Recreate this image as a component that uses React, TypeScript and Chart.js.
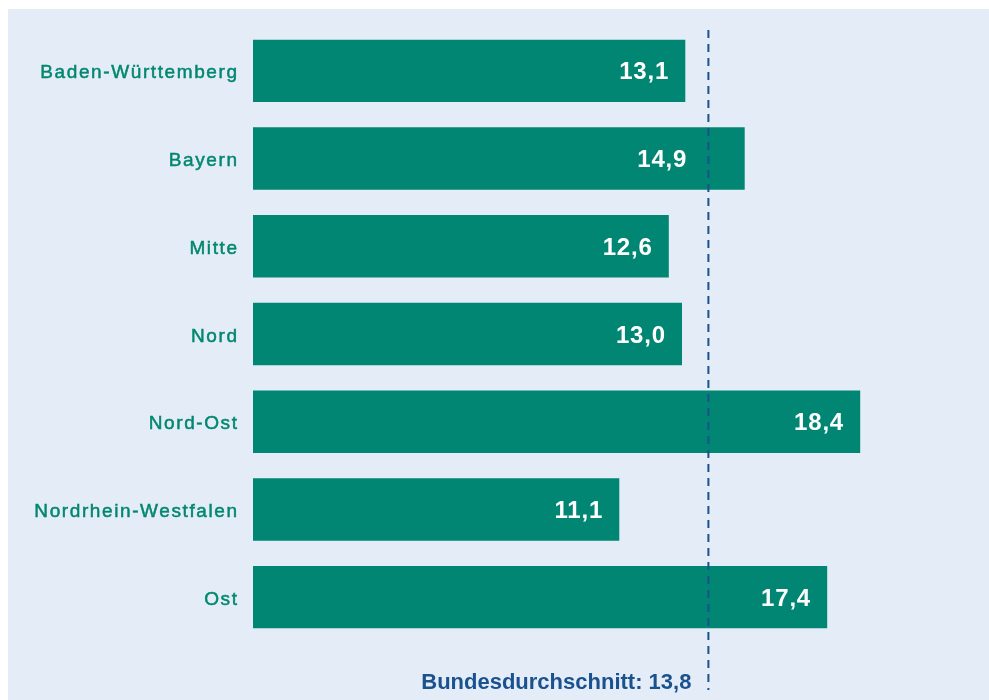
import React, { useEffect, useRef } from "react";
import { Chart, registerables } from "chart.js";

Chart.register(...registerables);

const categories = [
  "Baden-Württemberg",
  "Bayern",
  "Mitte",
  "Nord",
  "Nord-Ost",
  "Nordrhein-Westfalen",
  "Ost",
];
const values = [13.1, 14.9, 12.6, 13.0, 18.4, 11.1, 17.4];
const average = 13.8;
const averageLabel = "Bundesdurchschnitt: 13,8";

const TEAL = "#008672";
const LABEL_TEAL = "#00876f";
const BLUE = "#1a528f";
const BG = "#e4ecf7";

const fmt = (v: number) => v.toFixed(1).replace(".", ",");

const overlayPlugin = {
  id: "overlay",
  afterDatasetsDraw(chart: any) {
    const { ctx, chartArea } = chart;
    const xs = chart.scales.x;
    const ys = chart.scales.y;
    const lineX = xs.getPixelForValue(average);

    // category labels
    const sp = 1.6;
    ctx.save();
    ctx.font = "19px 'Liberation Sans', Arial, sans-serif";
    (ctx as any).letterSpacing = sp + "px";
    ctx.fillStyle = LABEL_TEAL;
    ctx.strokeStyle = LABEL_TEAL;
    ctx.lineWidth = 0.5;
    ctx.textAlign = "right";
    ctx.textBaseline = "alphabetic";
    categories.forEach((c, i) => {
      const y = ys.getPixelForValue(i);
      const x = chartArea.left - 16 + sp;
      ctx.fillText(c, x, y + 7.5);
      ctx.strokeText(c, x, y + 7.5);
    });
    ctx.restore();

    // dashed average line
    ctx.save();
    ctx.strokeStyle = BLUE;
    ctx.lineWidth = 2;
    ctx.setLineDash([8, 6]);
    ctx.beginPath();
    ctx.moveTo(lineX, chartArea.top + 3);
    ctx.lineTo(lineX, chartArea.bottom + 49);
    ctx.stroke();
    ctx.restore();

    // value labels
    ctx.save();
    ctx.font = "bold 24px 'Liberation Sans', Arial, sans-serif";
    (ctx as any).letterSpacing = "0.8px";
    ctx.fillStyle = "#ffffff";
    ctx.textAlign = "right";
    ctx.textBaseline = "alphabetic";
    const meta = chart.getDatasetMeta(0);
    meta.data.forEach((bar: any, i: number) => {
      const txt = fmt(values[i]);
      const w = ctx.measureText(txt).width;
      let right = bar.x - 17;
      if (right + 6 > lineX && right - w - 6 < lineX) {
        right = lineX - 22;
      }
      ctx.fillText(txt, right + 0.8, bar.y + 8.5);
    });
    ctx.restore();

    // average label
    ctx.save();
    ctx.font = "bold 22px 'Liberation Sans', Arial, sans-serif";
    ctx.fillStyle = BLUE;
    ctx.textAlign = "right";
    ctx.textBaseline = "alphabetic";
    ctx.fillText(averageLabel, lineX - 17, chartArea.bottom + 48);
    ctx.restore();
  },
};

export default function App() {
  const ref = useRef<HTMLCanvasElement | null>(null);

  useEffect(() => {
    if (!ref.current) return;
    const chart = new Chart(ref.current, {
      type: "bar",
      data: {
        labels: categories,
        datasets: [
          {
            data: values,
            backgroundColor: TEAL,
            borderWidth: 0,
            barPercentage: 0.712,
            categoryPercentage: 1,
          },
        ],
      },
      options: {
        indexAxis: "y",
        animation: false,
        responsive: false,
        devicePixelRatio: 1,
        layout: { padding: { left: 245, right: 10, top: 18, bottom: 59 } },
        scales: {
          x: { min: 0, max: 22, display: false },
          y: { display: false },
        },
        plugins: {
          legend: { display: false },
          tooltip: { enabled: false },
        },
      },
      plugins: [overlayPlugin],
    });
    return () => chart.destroy();
  }, []);

  return (
    <div
      style={{
        position: "fixed",
        left: 8,
        top: 9,
        right: 0,
        bottom: 0,
        background: BG,
        overflow: "hidden",
      }}
    >
      <canvas ref={ref} width={981} height={691} style={{ display: "block" }} />
    </div>
  );
}
